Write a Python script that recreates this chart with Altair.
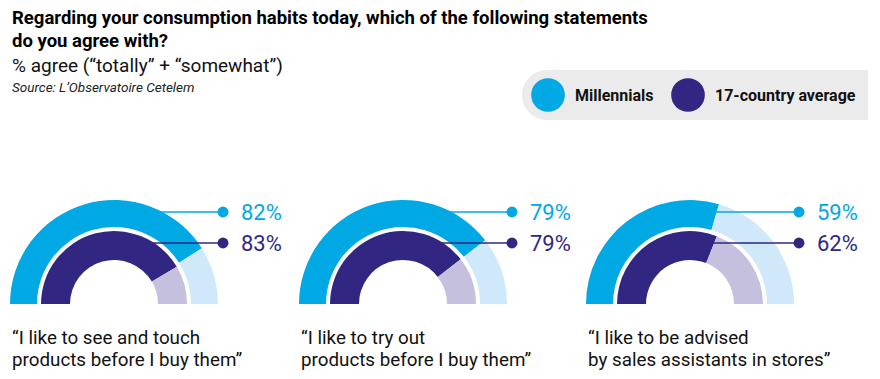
import math
import altair as alt
import pandas as pd

# ---- data ----
panels = [0, 1, 2]
quote_line1 = ["\u201cI like to see and touch", "\u201cI like to try out", "\u201cI like to be advised"]
quote_line2 = ["products before I buy them\u201d", "products before I buy them\u201d", "by sales assistants in stores\u201d"]
millennials = [82, 79, 59]
average = [83, 79, 62]
series_names = ["Millennials", "17-country average"]

title_line1 = "Regarding your consumption habits today, which of the following statements"
title_line2 = "do you agree with?"
subtitle = "% agree (\u201ctotally\u201d + \u201csomewhat\u201d)"
source = "Source: L\u2019Observatoire Cetelem"

# ---- styles / layout ----
BLUE = "#00a8e4"
BLUE_L = "#cfe9fa"
PURPLE = "#312783"
PURPLE_L = "#c6c0df"
FONT = "Roboto, sans-serif"
BOLD_FONT = "Roboto, sans-serif"
CENTERS = [114, 403, 690]
CY = 304

# ---- tables ----
arc_rows = []
lab_rows = []
for p, m, a in zip(panels, millennials, average):
    arc_rows.append(dict(panel=p, series="mil", key="mil_fill", start=0, end=m))
    arc_rows.append(dict(panel=p, series="mil", key="mil_rest", start=m, end=100))
    arc_rows.append(dict(panel=p, series="avg", key="avg_fill", start=0, end=a))
    arc_rows.append(dict(panel=p, series="avg", key="avg_rest", start=a, end=100))
    lab_rows.append(dict(panel=p, series="mil", key="mil_fill", label=f"{m}%"))
    lab_rows.append(dict(panel=p, series="avg", key="avg_fill", label=f"{a}%"))
arcs_df = pd.DataFrame(arc_rows)
lab_df = pd.DataFrame(lab_rows)
q_df = pd.DataFrame(dict(panel=panels, quote=[f"{a}\n{b}" for a, b in zip(quote_line1, quote_line2)]))

X = alt.X("panel:Q", scale=alt.Scale(domain=panels, range=CENTERS), axis=None)
theta_scale = alt.Scale(domain=[0, 100], range=[1.5 * math.pi, 2.5 * math.pi])
color = alt.Color(
    "key:N",
    scale=alt.Scale(domain=["mil_fill", "mil_rest", "avg_fill", "avg_rest"],
                    range=[BLUE, BLUE_L, PURPLE, PURPLE_L]),
    legend=None,
)
Ylab = alt.Y("series:N", scale=alt.Scale(type="point", domain=["mil", "avg"], range=[212, 243], padding=0), axis=None)

layers = []
for p, cx in zip(panels, CENTERS):
    for ser, r1, r2 in [("mil", 104, 77), ("avg", 73, 44)]:
        layers.append(
            alt.Chart(arcs_df)
            .transform_filter((alt.datum.panel == p) & (alt.datum.series == ser))
            .mark_arc(radius=r1, radius2=r2)
            .encode(
                x=alt.value(cx), y=alt.value(CY),
                theta=alt.Theta("start:Q", scale=theta_scale, stack=False),
                theta2=alt.Theta2("end:Q"),
                color=color,
            )
        )

lab = alt.Chart(lab_df)
rules = lab.mark_rule(strokeWidth=1.5, x2Offset=109).encode(x=X, x2=alt.X2("panel:Q"), y=Ylab, color=color)
dots = lab.mark_circle(size=120, opacity=1, xOffset=109).encode(x=X, y=Ylab, color=color)
pct = lab.mark_text(align="left", baseline="middle", xOffset=127, dy=1, fontSize=22, font="Roboto").encode(
    x=X, y=Ylab, text="label:N", color=color)

quotes = alt.Chart(q_df).mark_text(
    align="left", baseline="alphabetic", xOffset=-102, lineBreak="\n", lineHeight=22,
    fontSize=18.8, font=FONT, color="#111111",
).encode(x=X, y=alt.value(344), text="quote:N")


def txt(s, x, y, **kw):
    return alt.Chart(pd.DataFrame({"t": [s]})).mark_text(align="left", baseline="alphabetic", **kw).encode(
        x=alt.value(x), y=alt.value(y), text="t:N")


t1 = txt(title_line1, 12, 24, fontSize=18.5, fontWeight="bold", font=BOLD_FONT, color="#000000")
t2 = txt(title_line2, 12, 47, fontSize=18.5, fontWeight="bold", font=BOLD_FONT, color="#000000")
t3 = txt(subtitle, 12, 72, fontSize=19, font=FONT, color="#111111")
t4 = txt(source, 12, 92, fontSize=13.5, fontStyle="italic", font=FONT, color="#222222")

leg_bg = alt.Chart(pd.DataFrame({"a": [0]})).mark_rect(
    color="#ebebeb", cornerRadiusTopLeft=25, cornerRadiusBottomLeft=25
).encode(x=alt.value(522), x2=alt.value(868), y=alt.value(70), y2=alt.value(120))
leg_df = pd.DataFrame({"name": series_names, "key": ["mil_fill", "avg_fill"], "cx": [548, 688]})
leg_c = alt.Chart(leg_df).mark_circle(size=1134, opacity=1).encode(
    x=alt.X("cx:Q", scale=None), y=alt.value(95), color=color)
leg_t = alt.Chart(leg_df).mark_text(align="left", baseline="middle", fontSize=16, fontWeight="bold",
                                    font=BOLD_FONT, color="#111111", xOffset=27, dy=1).encode(
    x=alt.X("cx:Q", scale=None), y=alt.value(95), text="name:N")

chart = alt.layer(
    *layers, rules, dots, pct, quotes, t1, t2, t3, t4, leg_bg, leg_c, leg_t
).resolve_scale(x="independent").properties(
    width=880, height=379, autosize="none", padding=0, background="white"
).configure_view(stroke=None)

chart.save("out.html", embed_options={"renderer": "svg", "actions": False})
